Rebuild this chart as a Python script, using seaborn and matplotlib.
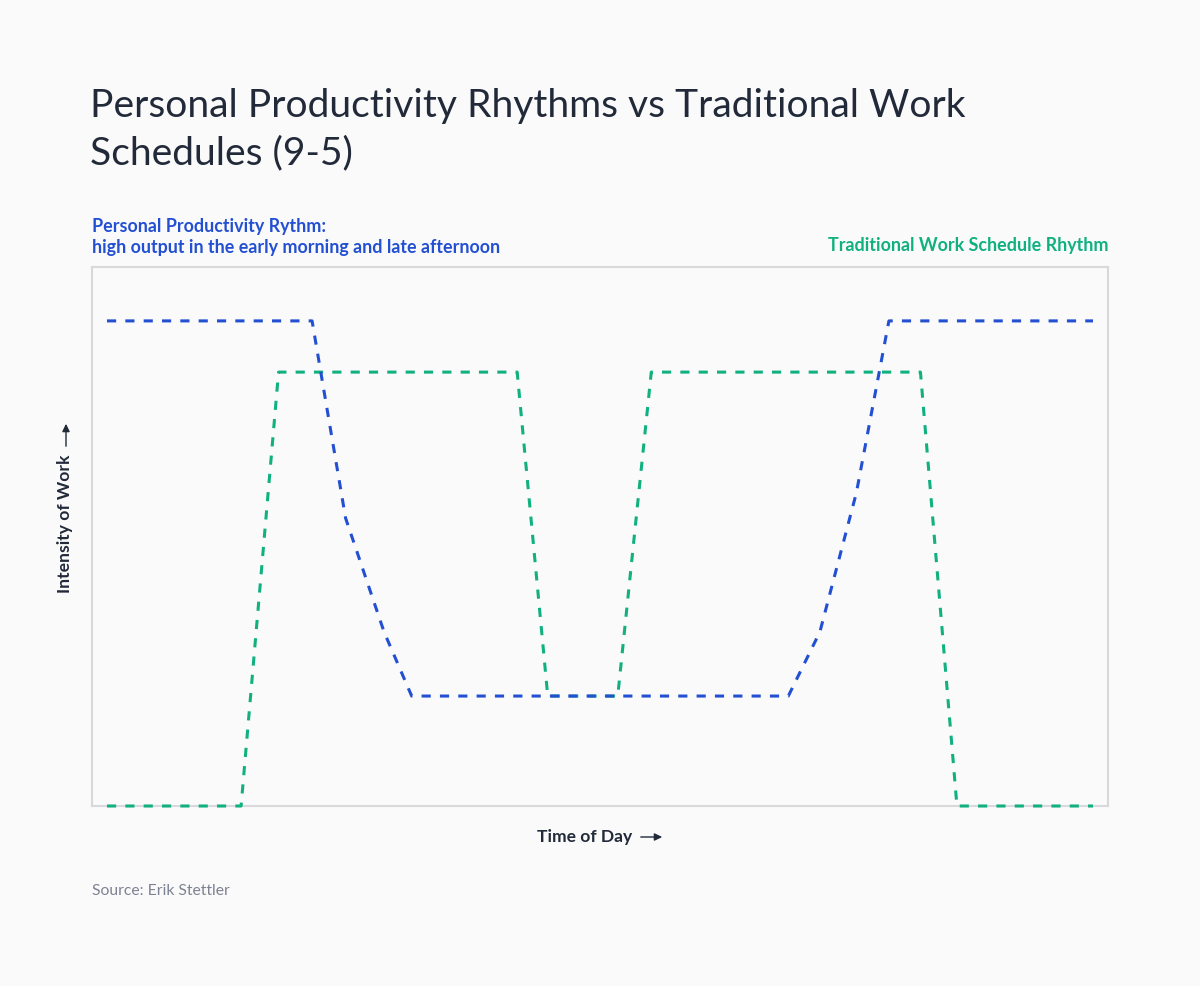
import numpy as np
import pandas as pd
import matplotlib
matplotlib.use("Agg")
import matplotlib.pyplot as plt
import seaborn as sns

# ---- data (x: time of day, arbitrary 0-100 scale; y: intensity 0-100) ----
personal_x = [0, 20.8, 24.2, 28.1, 30.9, 69.1, 72.3, 76.0, 79.3, 100]
personal_y = [90, 90, 53.4, 32.3, 20.4, 20.4, 32.3, 58.1, 90, 90]

traditional_x = [0, 13.6, 17.4, 41.6, 44.7, 51.8, 55.2, 82.5, 86.2, 100]
traditional_y = [0, 0, 80.5, 80.5, 20.4, 20.4, 80.5, 80.5, 0, 0]

title_lines = ["Personal Productivity Rhythms vs Traditional Work", "Schedules (9-5)"]
personal_label = ["Personal Productivity Rythm:", "high output in the early morning and late afternoon"]
traditional_label = "Traditional Work Schedule Rhythm"
x_label = "Time of Day"
y_label = "Intensity of Work"
source = "Source: Erik Stettler"

BG = "#fafafa"
BLUE = "#2350d2"
GREEN = "#10b07f"
DARK = "#222a3a"
GRAY = "#7c8291"
SPINE = "#d9d9dc"

sns.set_theme(style="white")
plt.rcParams["font.family"] = ["Lato", "DejaVu Sans"]

W, H = 1200, 986
fig = plt.figure(figsize=(W / 100, H / 100), dpi=100, facecolor=BG)
ax = fig.add_axes([92 / W, 1 - 806 / H, (1108 - 92) / W, (806 - 267) / H])
ax.set_facecolor(BG)

df_p = pd.DataFrame({"x": personal_x, "y": personal_y})
df_t = pd.DataFrame({"x": traditional_x, "y": traditional_y})

lw = 2.2
sns.lineplot(data=df_t, x="x", y="y", ax=ax, color=GREEN, lw=lw, sort=False,
             estimator=None, clip_on=False)
sns.lineplot(data=df_p, x="x", y="y", ax=ax, color=BLUE, lw=lw, sort=False,
             estimator=None, clip_on=False)
for ln in ax.get_lines():
    ln.set_dashes((3.0, 3.0))
    ln.set_dash_capstyle("butt")
    ln.set_zorder(4)

ax.set_xlim(-1.52, 101.52)
ax.set_ylim(0, 100)
ax.set_xticks([])
ax.set_yticks([])
ax.set_xlabel("")
ax.set_ylabel("")
for s in ax.spines.values():
    s.set_color(SPINE)
    s.set_linewidth(1.5)
    s.set_zorder(1)

def fy(py):
    return 1 - py / H

def fx(px):
    return px / W

# title
fig.text(fx(90), fy(117), title_lines[0], fontsize=28.1, color=DARK, va="baseline", ha="left")
fig.text(fx(90), fy(164), title_lines[1], fontsize=28.1, color=DARK, va="baseline", ha="left")

# series labels
fig.text(fx(92), fy(232), personal_label[0], fontsize=12.9, color=BLUE, fontweight="bold", va="baseline")
fig.text(fx(92), fy(253), personal_label[1], fontsize=12.9, color=BLUE, fontweight="bold", va="baseline")
fig.text(fx(1108), fy(251), traditional_label, fontsize=12.9, color=GREEN, fontweight="bold",
         va="baseline", ha="right")

# axis labels with arrows
fig.text(fx(632), fy(842), x_label, fontsize=12.6, color=DARK, fontweight="bold", va="baseline", ha="right")
fig.patches.append(matplotlib.patches.FancyArrowPatch(
    (fx(638), fy(837)), (fx(665), fy(837)), transform=fig.transFigure,
    arrowstyle="-|>,head_length=4.5,head_width=2.2", color=DARK, lw=1.0, mutation_scale=1))

fig.text(fx(70), fy(593), y_label, fontsize=12.6, color=DARK, fontweight="bold", va="baseline",
         ha="left", rotation=90, rotation_mode="anchor")
fig.patches.append(matplotlib.patches.FancyArrowPatch(
    (fx(66), fy(449)), (fx(66), fy(421)), transform=fig.transFigure,
    arrowstyle="-|>,head_length=4.5,head_width=2.2", color=DARK, lw=1.0, mutation_scale=1))

# source
fig.text(fx(92), fy(895), source, fontsize=11.3, color=GRAY, va="baseline")

fig.savefig("out.png", dpi=100, facecolor=BG)
